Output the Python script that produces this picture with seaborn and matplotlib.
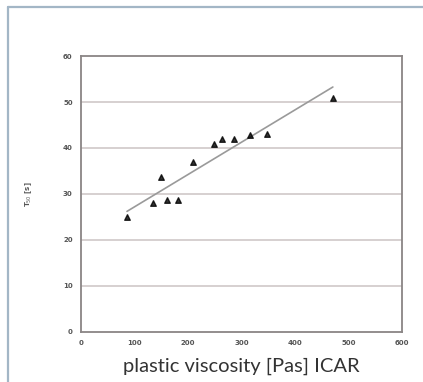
import matplotlib
matplotlib.use('Agg')
import matplotlib.pyplot as plt
from matplotlib.lines import Line2D
import seaborn as sns
import pandas as pd

# plastic viscosity (ICAR) vs T50 readings
viscosity = [86, 135, 149, 161, 181, 210, 249, 264, 286, 316, 347, 471]
t50 = [25.0, 28.0, 33.7, 28.7, 28.7, 37.0, 40.9, 42.0, 42.0, 42.8, 43.0, 50.9]
x_ticks = [0, 100, 200, 300, 400, 500, 600]
y_ticks = [0, 10, 20, 30, 40, 50, 60]

df = pd.DataFrame({'viscosity': viscosity, 't50': t50})

sns.set_style('white')
fig = plt.figure(figsize=(4.23, 3.82), dpi=100)
ax = fig.add_axes([0.1915, 0.1309, 0.7585, 0.7225])

for y in y_ticks[1:-1]:
    ax.axhline(y, color='#d6d0d0', lw=1.4, zorder=0)

sns.regplot(data=df, x='viscosity', y='t50', ci=None, ax=ax, marker='^',
            scatter_kws={'s': 16, 'color': 'black', 'zorder': 3},
            line_kws={'color': '#9a9a9a', 'lw': 1.2, 'zorder': 2})

ax.set_xlim(0, 600)
ax.set_ylim(0, 60)
ax.set_xticks(x_ticks)
ax.set_yticks(y_ticks)
ax.tick_params(axis='both', labelsize=5, labelcolor='#555555', length=2,
               width=0.8, color='#888888', direction='in', pad=6)
for lbl in ax.get_xticklabels() + ax.get_yticklabels():
    lbl.set_fontweight('bold')
for sp in ax.spines.values():
    sp.set_color('#8a8585')
    sp.set_linewidth(1.3)

ax.set_xlabel('')
ax.set_ylabel('T$_{50}$ [s]', fontsize=5, color='#555555', fontweight='bold', labelpad=21)

fig.text(0.57, 0.042, 'plastic viscosity [Pas] ICAR', ha='center', va='center',
         fontsize=14.5, color='#333333', family=['Lato', 'DejaVu Sans'])

# light frame around the figure box
W, H = 423, 382
fig.add_artist(Line2D([8 / W, 1], [1 - 6.5 / H, 1 - 6.5 / H], transform=fig.transFigure,
                      color='#a3b6c6', lw=1.6))
fig.add_artist(Line2D([8 / W, 8 / W], [0, 1 - 6.5 / H], transform=fig.transFigure,
                      color='#a3b6c6', lw=1.6))

fig.savefig('out.png', dpi=100)
plt.close(fig)
